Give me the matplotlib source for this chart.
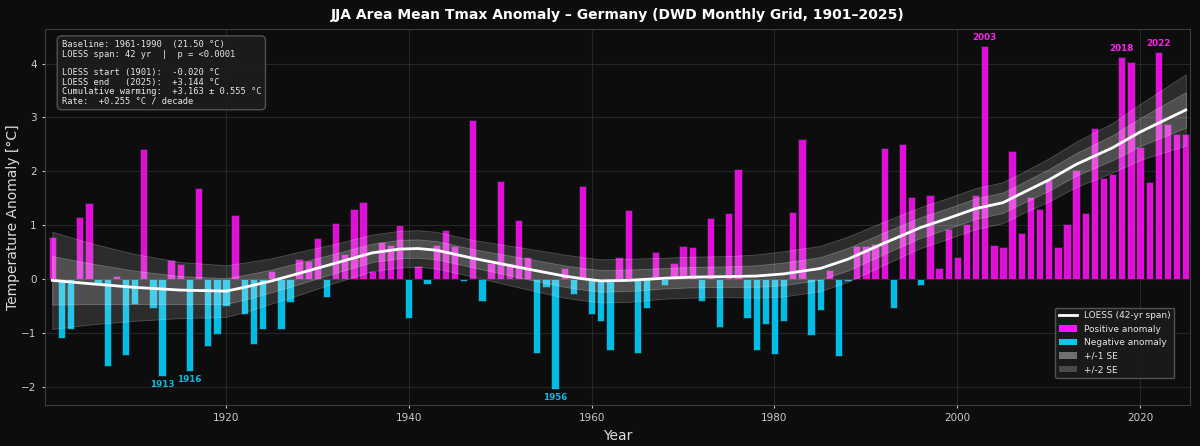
import numpy as np
import matplotlib
matplotlib.use("Agg")
import matplotlib.pyplot as plt
from matplotlib.patches import Patch
from matplotlib.lines import Line2D

# JJA Tmax anomalies vs 1961-1990 (degC)
years = list(range(1901, 2026))
anomaly = [
    0.78, -1.09, -0.92, 1.16, 1.41, -0.08, -1.60, 0.06, -1.41, -0.45,   # 1901-1910
    2.42, -0.54, -1.80, 0.35, 0.29, -1.70, 1.70, -1.23, -1.02, -0.49,   # 1911-1920
    1.19, -0.65, -1.20, -0.93, 0.16, -0.93, -0.42, 0.38, 0.34, 0.76,    # 1921-1930
    -0.33, 1.05, 0.47, 1.30, 1.44, 0.16, 0.69, 0.63, 1.00, -0.72,       # 1931-1940
    0.25, -0.09, 0.63, 0.91, 0.61, -0.03, 2.96, -0.41, 0.31, 1.83,      # 1941-1950
    0.31, 1.10, 0.41, -1.36, -0.15, -2.03, 0.20, -0.28, 1.73, -0.64,    # 1951-1960
    -0.77, -1.31, 0.41, 1.28, -1.37, -0.54, 0.51, -0.10, 0.31, 0.62,    # 1961-1970
    0.60, -0.41, 1.13, -0.89, 1.22, 2.04, -0.72, -1.32, -0.82, -1.38,   # 1971-1980
    -0.77, 1.24, 2.60, -1.04, -0.57, 0.17, -1.43, -0.03, 0.62, 0.62,    # 1981-1990
    0.65, 2.44, -0.54, 2.51, 1.52, -0.10, 1.56, 0.20, 0.94, 0.41,       # 1991-2000
    1.02, 1.57, 4.32, 0.64, 0.59, 2.38, 0.86, 1.53, 1.31, 1.84,         # 2001-2010
    0.60, 1.03, 2.02, 1.23, 2.80, 1.87, 1.96, 4.12, 4.02, 2.46,         # 2011-2020
    1.80, 4.22, 2.88, 2.70, 2.70,                                       # 2021-2025
]

# LOESS curve and its standard error
loess_years = [1901, 1905, 1910, 1915, 1920, 1922, 1925, 1928, 1932, 1936,
               1939, 1941, 1943, 1947, 1950, 1953, 1957, 1959, 1961, 1964,
               1968, 1971, 1975, 1978, 1981, 1985, 1988, 1992, 1996, 1999,
               2002, 2005, 2007, 2010, 2013, 2017, 2020, 2025]
loess_vals = [-0.02, -0.08, -0.15, -0.20, -0.22, -0.15, -0.03, 0.11, 0.30, 0.49,
              0.56, 0.57, 0.54, 0.39, 0.29, 0.19, 0.06, 0.01, -0.03, -0.02,
              0.02, 0.04, 0.05, 0.06, 0.10, 0.20, 0.37, 0.67, 0.96, 1.13,
              1.31, 1.42, 1.59, 1.84, 2.13, 2.44, 2.73, 3.14]
loess_se = [0.45, 0.38, 0.31, 0.26, 0.24, 0.23, 0.21, 0.20, 0.18, 0.17,
            0.17, 0.17, 0.17, 0.17, 0.18, 0.19, 0.20, 0.20, 0.20, 0.20,
            0.19, 0.19, 0.19, 0.20, 0.21, 0.21, 0.21, 0.20, 0.19, 0.19,
            0.19, 0.19, 0.19, 0.20, 0.21, 0.23, 0.26, 0.33]

highlight_hot = [2003, 2018, 2022]
highlight_cold = [1913, 1916, 1956]

stats_text = ("Baseline: 1961-1990  (21.50 \u00b0C)\n"
              "LOESS span: 42 yr  |  p = <0.0001\n"
              "\n"
              "LOESS start (1901):  -0.020 \u00b0C\n"
              "LOESS end   (2025):  +3.144 \u00b0C\n"
              "Cumulative warming:  +3.163 \u00b1 0.555 \u00b0C\n"
              "Rate:  +0.255 \u00b0C / decade")

BG = "#0d0d0d"
POS = "#e010d8"
NEG = "#00bde6"

fig = plt.figure(figsize=(12, 4.46), dpi=100, facecolor=BG)
ax = fig.add_axes([0.0375, 0.092, 0.9545, 0.843])
ax.set_facecolor(BG)

yrs = np.array(years)
an = np.array(anomaly)
cols = [POS if v >= 0 else NEG for v in an]
ax.bar(yrs, an, width=0.8, color=cols, edgecolor="#222222", linewidth=0.6, zorder=2)

ly = np.array(loess_years)
lv = np.array(loess_vals)
ls = np.array(loess_se)
ax.fill_between(ly, lv - 2 * ls, lv + 2 * ls, facecolor=(1, 1, 1, 0.13),
                edgecolor=(1, 1, 1, 0.22), lw=0.6, zorder=3)
ax.fill_between(ly, lv - ls, lv + ls, facecolor=(1, 1, 1, 0.17),
                edgecolor=(1, 1, 1, 0.25), lw=0.6, zorder=3)
ax.plot(ly, lv, color="white", lw=2.0, zorder=4)

for y in highlight_hot:
    v = anomaly[years.index(y)]
    ax.text(y, v + 0.07, str(y), color="#ff20f0", fontsize=6.3, fontweight="bold",
            ha="center", va="bottom", zorder=5)
for y in highlight_cold:
    v = anomaly[years.index(y)]
    ax.text(y, v - 0.07, str(y), color="#10b8e0", fontsize=6.3, fontweight="bold",
            ha="center", va="top", zorder=5)

ax.set_xlim(1900.2, 2025.5)
ax.set_ylim(-2.33, 4.64)
ax.grid(True, color="#262626", lw=0.8, zorder=0)
ax.set_axisbelow(True)
for sp in ax.spines.values():
    sp.set_color("#3c3c3c")
ax.tick_params(colors="#cccccc", labelsize=7.5, length=2.5)
ax.set_xlabel("Year", color="#dddddd", fontsize=10, labelpad=4)
ax.set_ylabel("Temperature Anomaly [\u00b0C]", color="#dddddd", fontsize=10, labelpad=1)
ax.set_title("JJA Area Mean Tmax Anomaly \u2013 Germany (DWD Monthly Grid, 1901\u20132025)",
             color="white", fontsize=10, fontweight="bold", pad=7)

ax.text(0.0145, 0.97, stats_text, transform=ax.transAxes, family="monospace",
        fontsize=6.3, color="#e8e8e8", va="top", ha="left", zorder=6, linespacing=1.05,
        bbox=dict(boxstyle="round,pad=0.5", facecolor="#1c1c1c", edgecolor="#555555", alpha=0.95))

handles = [
    Line2D([0], [0], color="white", lw=2),
    Patch(facecolor="#ff10ff", edgecolor="none"),
    Patch(facecolor="#00ccf0", edgecolor="none"),
    Patch(facecolor="#707070", edgecolor="none"),
    Patch(facecolor="#4a4a4a", edgecolor="none"),
]
labels = ["LOESS (42-yr span)", "Positive anomaly", "Negative anomaly", "+/-1 SE", "+/-2 SE"]
leg = ax.legend(handles, labels, loc="lower right", fontsize=6.5, facecolor="#1a1a1a",
                edgecolor="#555555", labelcolor="#e8e8e8", framealpha=0.95,
                bbox_to_anchor=(0.99, 0.06))

fig.savefig("out.png", dpi=100, facecolor=BG)
